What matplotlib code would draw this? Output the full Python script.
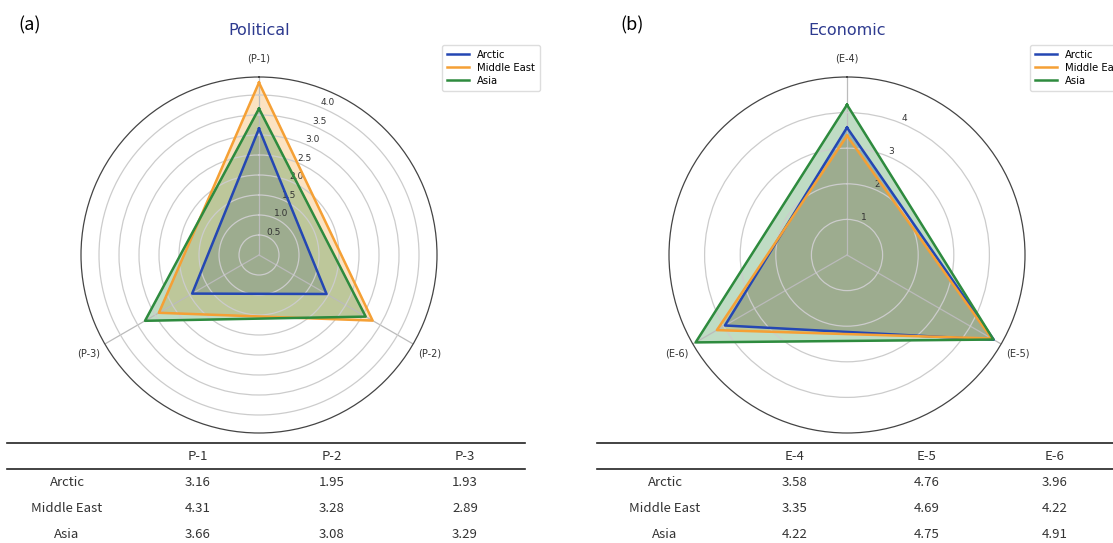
import numpy as np
import matplotlib.pyplot as plt

# data (same numbers as the tables)
regions = ['Arctic', 'Middle East', 'Asia']
colors = ['#2447b3', '#f5a035', '#2e8b3e']

pol_axes = ['P-1', 'P-2', 'P-3']
pol_arctic = [3.16, 1.95, 1.93]
pol_mideast = [4.31, 3.28, 2.89]
pol_asia = [3.66, 3.08, 3.29]

eco_axes = ['E-4', 'E-5', 'E-6']
eco_arctic = [3.58, 4.76, 3.96]
eco_mideast = [3.35, 4.69, 4.22]
eco_asia = [4.22, 4.75, 4.91]

W, H = 1113, 543
fig = plt.figure(figsize=(W / 100, H / 100), dpi=100)


def radar(rect, cats, series, title, rmax, rticks, rlabels):
    ax = fig.add_axes(rect, projection='polar')
    ax.set_theta_offset(np.pi / 2)
    ax.set_theta_direction(-1)
    angles = np.linspace(0, 2 * np.pi, len(cats), endpoint=False)
    for name, vals, c in zip(regions, series, colors):
        a = np.append(angles, angles[0])
        v = np.append(vals, vals[0])
        ax.plot(a, v, color=c, lw=1.8, label=name)
        ax.fill(a, v, color=c, alpha=0.3)
    ax.set_xticks(angles)
    ax.set_xticklabels(['(%s)' % c for c in cats], fontsize=7, color='#333333')
    ax.tick_params(axis='x', pad=3)
    ax.set_ylim(0, rmax)
    ax.set_yticks(rticks)
    ax.set_yticklabels(rlabels, fontsize=6.5, color='#333333')
    ax.grid(color='#cccccc', lw=0.9)
    ax.xaxis.grid(color='#bbbbbb', lw=0.9)
    ax.spines['polar'].set_color('#444444')
    ax.spines['polar'].set_linewidth(0.9)
    ax.set_title(title, color='#2d3a8f', fontsize=11.5, pad=30)
    # legend is partly cut by the right edge in panel (b), as in the original
    ax.legend(loc='upper left', bbox_to_anchor=(1.0, 1.105), fontsize=7.2,
              handlelength=2.2, borderpad=0.5, labelspacing=0.3, framealpha=1,
              edgecolor='#dddddd')
    return ax


R = 178
side_w, side_h = 2 * R / W, 2 * R / H
bottom = (H - 433) / H
radar([(259 - R) / W, bottom, side_w, side_h], pol_axes,
      [pol_arctic, pol_mideast, pol_asia], 'Political', 4.45,
      np.arange(0.5, 4.01, 0.5), ['%.1f' % t for t in np.arange(0.5, 4.01, 0.5)])
radar([(847 - R) / W, bottom, side_w, side_h], eco_axes,
      [eco_arctic, eco_mideast, eco_asia], 'Economic', 5.0,
      [1, 2, 3, 4], ['1', '2', '3', '4'])

tfont = ['Noto Sans CJK KR', 'DejaVu Sans']
fig.text(30 / W, 1 - 25 / H, '(a)', fontsize=13, family=tfont, ha='center', va='center')
fig.text(632 / W, 1 - 25 / H, '(b)', fontsize=13, family=tfont, ha='center', va='center')

# tables under the radars, drawn in pixel coordinates
tab = fig.add_axes([0, 0, 1, 1], facecolor='none')
tab.set_xlim(0, W)
tab.set_ylim(H, 0)
tab.axis('off')


def table(x0, x1, label_x, col_x, cats, series):
    tab.plot([x0, x1], [443, 443], color='#222222', lw=1.2)
    tab.plot([x0, x1], [469, 469], color='#222222', lw=1.2)
    for cx, c in zip(col_x, cats):
        tab.text(cx, 457, c, ha='center', va='center', fontsize=9.5, family=tfont, color='#333333')
    row_y = [483, 509, 534]
    for ry, name, vals in zip(row_y, regions, series):
        tab.text(label_x, ry, name, ha='center', va='center', fontsize=9.5, family=tfont, color='#333333')
        for cx, v in zip(col_x, vals):
            tab.text(cx, ry, '%.2f' % v, ha='center', va='center', fontsize=9.5, family=tfont, color='#333333')


table(7, 525, 67, [198, 332, 465], pol_axes, [pol_arctic, pol_mideast, pol_asia])
table(597, W, 665, [795, 927, 1055], eco_axes, [eco_arctic, eco_mideast, eco_asia])

fig.savefig('out.png', dpi=100)
